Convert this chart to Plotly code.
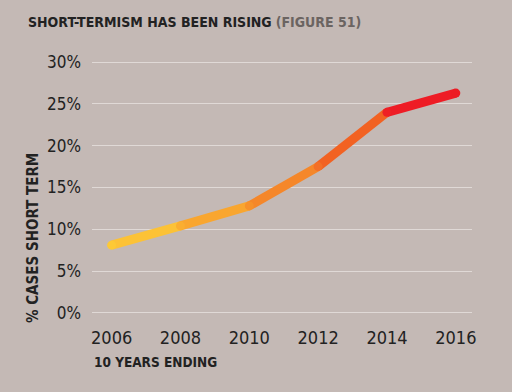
import plotly.graph_objects as go

years = [2006, 2008, 2010, 2012, 2014, 2016]
pct_short_term = [8.1, 10.4, 12.8, 17.5, 24.0, 26.3]
seg_colors = ["#FCC236", "#F9A62F", "#F5872A", "#F26222", "#EE1C25"]
point_colors = ["#FDC935", "#FAAE30", "#F6912B", "#F36F27", "#EE2025", "#EC1C24"]

y_ticks = [0, 5, 10, 15, 20, 25, 30]
y_tick_text = [f"{v}%" for v in y_ticks]

FONT = "DejaVu Sans Condensed, Liberation Sans Narrow, sans-serif"
BG = "#C4B9B5"

L, R, T, B = 92, 40, 58, 75
plot_h = 392 - T - B
plot_w = 512 - L - R

fig = go.Figure()
for i in range(len(years) - 1):
    fig.add_trace(go.Scatter(
        x=years[i:i + 2], y=pct_short_term[i:i + 2], mode="lines",
        line=dict(color=seg_colors[i], width=9), hoverinfo="skip", showlegend=False))
fig.add_trace(go.Scatter(
    x=years, y=pct_short_term, mode="markers",
    marker=dict(color=point_colors, size=9, line=dict(width=0)),
    showlegend=False, cliponaxis=False, hoverinfo="skip"))

fig.update_layout(
    width=512, height=392,
    paper_bgcolor=BG, plot_bgcolor=BG,
    margin=dict(l=L, r=R, t=T, b=B),
    font=dict(family=FONT, color="#222222"),
    xaxis=dict(range=[2005.43, 2016.47], tickvals=years, ticktext=[str(y) for y in years],
               showgrid=False, zeroline=False, showline=False,
               tickfont=dict(size=18, color="#222222"), ticklabelstandoff=8),
    yaxis=dict(range=[-0.5, 30.5], tickvals=y_ticks, ticktext=y_tick_text,
               showgrid=True, gridcolor="#E0D9D6", gridwidth=1.3, zeroline=False, showline=False,
               tickfont=dict(size=17, color="#222222"), ticklabelstandoff=10),
)
fig.add_annotation(text="<b>SHORT-TERMISM HAS BEEN RISING</b> <span style='color:#6B6461'><b>(FIGURE 51)</b></span>",
                   xref="paper", yref="paper", x=(26 - L) / plot_w, y=1 + (T - 22) / plot_h,
                   xanchor="left", yanchor="middle", showarrow=False,
                   font=dict(size=14, color="#222222", family=FONT))
fig.add_annotation(text="<b>% CASES SHORT TERM</b>", textangle=-90,
                   xref="paper", yref="paper", x=(33 - L) / plot_w, y=1 - (238 - T) / plot_h,
                   xanchor="center", yanchor="middle", showarrow=False,
                   font=dict(size=15, color="#222222", family=FONT))
fig.add_annotation(text="<b>10 YEARS ENDING</b>",
                   xref="paper", yref="paper", x=0, y=1 - (362 - T) / plot_h,
                   xanchor="left", yanchor="middle", showarrow=False,
                   font=dict(size=13.5, color="#222222", family=FONT))

fig.write_html("out.html", config={"displayModeBar": False},
               post_script="document.body.style.margin='0';")
